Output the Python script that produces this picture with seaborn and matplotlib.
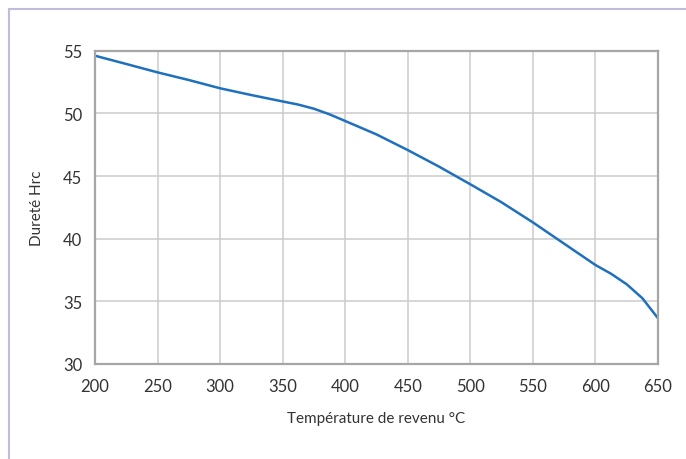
import numpy as np
import pandas as pd
import seaborn as sns
import matplotlib.pyplot as plt
from matplotlib.patches import Rectangle

temperature = [200, 225, 250, 275, 300, 325, 350, 362.5, 375, 387.5, 400, 425, 450, 475,
               500, 525, 550, 575, 600, 612.5, 625, 637.5, 643.75, 650]
durete = [54.6, 53.94, 53.27, 52.66, 52.0, 51.46, 50.95, 50.7, 50.37, 49.92, 49.39, 48.32,
          47.07, 45.75, 44.34, 42.9, 41.3, 39.6, 37.9, 37.2, 36.36, 35.25, 34.45, 33.65]
xticks = [200, 250, 300, 350, 400, 450, 500, 550, 600, 650]
yticks = [30, 35, 40, 45, 50, 55]

df = pd.DataFrame({'Température': temperature, 'Dureté': durete})

sns.set_style('white')
plt.rcParams['font.family'] = ['Lato', 'DejaVu Sans']

fig = plt.figure(figsize=(6.86, 4.6), dpi=100)
# lavender frame round the chart
fig.patches.append(Rectangle((9 / 686, -0.1), 1.2, 1 - 10 / 460 + 0.1,
                             transform=fig.transFigure, fill=False,
                             edgecolor='#c0bce0', linewidth=1.5))

ax = fig.add_axes([95 / 686, 1 - 365 / 460, 563 / 686, 313.3 / 460])
sns.lineplot(data=df, x='Température', y='Dureté', ax=ax, color='#1f70bd', linewidth=1.8)

ax.set_xlim(200, 650)
ax.set_ylim(30, 55)
ax.set_xticks(xticks)
ax.set_yticks(yticks)
ax.grid(True, color='#cccccc', linewidth=1.1)
for s in ax.spines.values():
    s.set_visible(True)
    s.set_color('#a6a6a6')
    s.set_linewidth(1.6)
ax.tick_params(axis='x', length=0, pad=10, labelsize=12, labelcolor='#333333')
ax.tick_params(axis='y', length=0, pad=9, labelsize=12, labelcolor='#333333')
ax.set_xlabel('Température de revenu °C', fontsize=11, color='#333333', labelpad=12)
ax.set_ylabel('Dureté Hrc', fontsize=11, color='#333333', labelpad=14)

fig.savefig('out.png', dpi=100)
